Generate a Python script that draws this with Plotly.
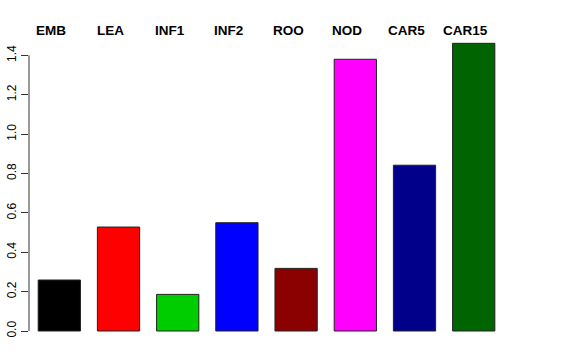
import plotly.graph_objects as go

categories = ["EMB", "LEA", "INF1", "INF2", "ROO", "NOD", "CAR5", "CAR15"]
values = [0.259, 0.528, 0.186, 0.550, 0.318, 1.380, 0.842, 1.461]
colors = ["#000000", "#FF0000", "#00CD00", "#0000FF", "#8B0000", "#FF00FF", "#00008B", "#006400"]
y_ticks = [0.0, 0.2, 0.4, 0.6, 0.8, 1.0, 1.2, 1.4]
y_ticktext = ["0.0", "0.2", "0.4", "0.6", "0.8", "1.0", "1.2", "1.4"]

xpos = list(range(len(categories)))

fig = go.Figure()
fig.add_trace(go.Bar(
    x=xpos, y=values, width=0.714,
    marker=dict(color=colors, line=dict(color="#222222", width=1)),
    hoverinfo="skip",
))

for i, c in enumerate(categories):
    fig.add_annotation(
        x=i, y=1, xref="x", yref="paper", yshift=0, xshift=-8,
        text=f"<b>{c}</b>", showarrow=False,
        font=dict(family="Liberation Sans, Arial, sans-serif", size=13.5, color="black"),
        xanchor="center", yanchor="middle",
    )

# R-style axis line spanning only the tick range
fig.add_shape(type="line", xref="paper", yref="y", x0=0, x1=0, y0=0, y1=1.4,
              line=dict(color="#333333", width=1))

fig.update_layout(
    width=576, height=360,
    margin=dict(l=29, r=29, t=30, b=20, autoexpand=False),
    paper_bgcolor="white", plot_bgcolor="white",
    showlegend=False,
    xaxis=dict(range=[-0.512, 8.238], showgrid=False, zeroline=False,
               showticklabels=False, ticks="", showline=False, automargin=False),
    yaxis=dict(range=[-0.0457, 1.5287], showgrid=False, zeroline=False, showline=False,
               tickmode="array", tickvals=y_ticks, ticktext=y_ticktext,
               ticks="outside", ticklen=7, tickcolor="#333333", tickwidth=1,
               tickangle=-90, automargin=False,
               tickfont=dict(family="Liberation Sans, Arial, sans-serif", size=12, color="black")),
)

fig.write_html("out.html", config={"displayModeBar": False},
               post_script="document.body.style.margin='0';document.body.style.overflow='hidden';")
